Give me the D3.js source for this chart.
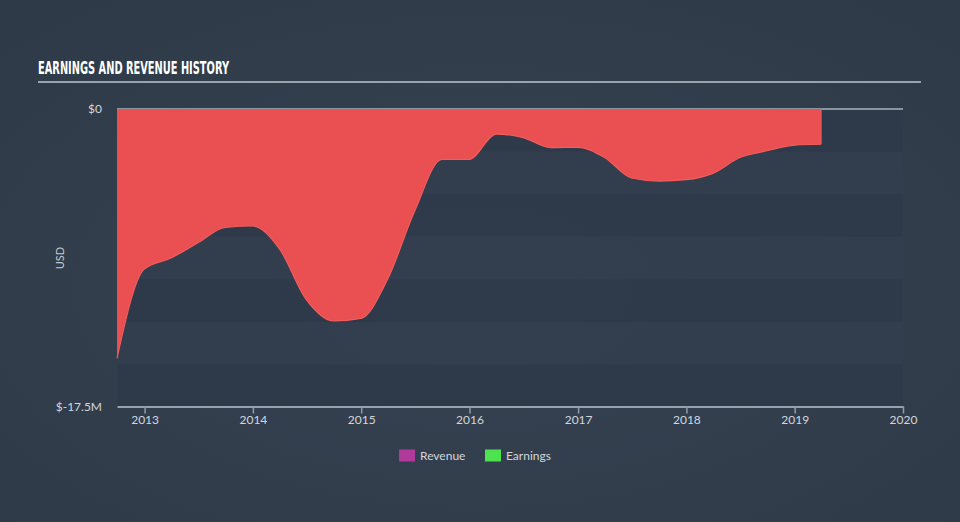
<!DOCTYPE html>
<html><head><meta charset="utf-8">
<script src="https://cdn.jsdelivr.net/npm/d3@7"></script>
<style>body{margin:0;background:#333f4e;}svg{display:block;}</style>
</head><body>
<svg id="c" width="960" height="522"></svg>
<script>
// Data: quarterly trailing earnings (USD millions)
const dates = ["2012-09-30","2012-12-31","2013-03-31","2013-06-30","2013-09-30","2013-12-31",
  "2014-03-31","2014-06-30","2014-09-30","2014-12-31","2015-03-31","2015-06-30","2015-09-30",
  "2015-12-31","2016-03-31","2016-06-30","2016-09-30","2016-12-31","2017-03-31","2017-06-30",
  "2017-09-30","2017-12-31","2018-03-31","2018-06-30","2018-09-30","2018-12-31","2019-03-31"];
const earnings = [-14.64,-9.4,-8.75,-7.85,-6.95,-6.87,-8.2,-11.2,-12.45,-12.3,-10.0,-6.0,-2.96,
  -2.96,-1.47,-1.68,-2.27,-2.25,-2.85,-4.05,-4.23,-4.15,-3.78,-2.85,-2.45,-2.12,-2.07];
const xTickYears = [2013,2014,2015,2016,2017,2018,2019,2020];
const yTicks = [0,-17.5];
const legendItems = [{name:"Revenue",color:"#b0399b"},{name:"Earnings",color:"#4de24f"}];

(function(){
const svg = d3.select("#c");
const W=960,H=522;
const defs = svg.append("defs");
const rg = defs.append("radialGradient").attr("id","bg").attr("cx","50%").attr("cy","55%").attr("r","70%");
rg.append("stop").attr("offset","0%").attr("stop-color","#364352");
rg.append("stop").attr("offset","100%").attr("stop-color","#2f3a48");
svg.append("rect").attr("width",W).attr("height",H).attr("fill","url(#bg)");

const pL=117,pR=903,pT=109,pB=407;
const parse=d3.timeParse("%Y-%m-%d");
const data = dates.map((d,i)=>({date:parse(d),v:earnings[i]}));
const x = d3.scaleTime().domain([parse("2012-09-30"),new Date(2020,0,1)]).range([pL,pR]);
const y = d3.scaleLinear().domain([-17.5,0]).range([pB,pT]);

// bands
const nb=7, bh=(pB-pT)/nb;
for(let i=0;i<nb;i++){
  svg.append("rect").attr("x",pL).attr("y",pT+i*bh).attr("width",pR-pL).attr("height",bh)
    .attr("fill", i%2===0 ? "#2e3a49" : "#323e4e").attr("opacity",0.85);
}

// zero line
svg.append("line").attr("x1",pL).attr("x2",pR).attr("y1",y(0)).attr("y2",y(0))
  .attr("stroke","#a9b3bd").attr("stroke-width",1.5);

// area
const area = d3.area().x(d=>x(d.date)).y0(y(0)).y1(d=>y(d.v)).curve(d3.curveMonotoneX);
svg.append("path").datum(data).attr("d",area).attr("fill","#ea4f51");
const line = d3.line().x(d=>x(d.date)).y(d=>y(d.v)).curve(d3.curveMonotoneX);
svg.append("path").datum(data).attr("d",line).attr("fill","none").attr("stroke","#f25c5c").attr("stroke-width",1.2);
const last=data[data.length-1];
svg.append("line").attr("x1",x(last.date)).attr("x2",x(last.date)).attr("y1",y(0)).attr("y2",y(last.v))
  .attr("stroke","#f25c5c").attr("stroke-width",1);

// x axis
const xa = svg.append("g").attr("transform",`translate(0,${pB-0.5})`)
  .call(d3.axisBottom(x).tickValues(xTickYears.map(yr=>new Date(yr,0,1))).tickFormat(d3.timeFormat("%Y")).tickSize(7).tickSizeOuter(0));
xa.select(".domain").attr("stroke","#b9c5d1").attr("stroke-width",1.5);
xa.selectAll(".tick line").attr("stroke","#8f9cab").attr("stroke-width",1.5);
xa.selectAll(".tick text").attr("fill","#d2d7dd").attr("font-family","Lato, 'Open Sans', sans-serif").attr("font-size",12).attr("dy","0.95em").attr("y",6);

// y labels
svg.selectAll(".ylab").data(yTicks).enter().append("text")
  .attr("x",102).attr("y",d=>y(d)).attr("dy","0.35em").attr("text-anchor","end")
  .attr("fill","#d2d7dd").attr("font-family","Lato, 'Open Sans', sans-serif").attr("font-size",12)
  .text(d=> d===0 ? "$0" : "$"+d+"M");
svg.append("text").attr("transform","translate(64,258) rotate(-90)").attr("text-anchor","middle")
  .attr("fill","#c2c9d1").attr("font-family","Lato, 'Open Sans', sans-serif").attr("font-size",11).text("USD");

// title
svg.append("text").attr("x",38).attr("y",74).attr("fill","#ffffff")
  .attr("font-family","'DejaVu Sans Condensed','Liberation Sans Narrow',sans-serif").attr("font-weight","bold")
  .attr("font-size",17).attr("textLength",191).attr("lengthAdjust","spacingAndGlyphs")
  .text("EARNINGS AND REVENUE HISTORY");
svg.append("line").attr("x1",38).attr("x2",921).attr("y1",82).attr("y2",82).attr("stroke","#9aa3ad").attr("stroke-width",2);

// legend
const lx=[399,485];
legendItems.forEach((it,i)=>{
  svg.append("rect").attr("x",lx[i]).attr("y",449.5).attr("width",16).attr("height",12).attr("fill",it.color);
  svg.append("text").attr("x",lx[i]+21).attr("y",456).attr("dy","0.35em").attr("fill","#d2d7dd")
    .attr("font-family","Lato, 'Open Sans', sans-serif").attr("font-size",12).text(it.name);
});
})();
</script>
</body></html>
